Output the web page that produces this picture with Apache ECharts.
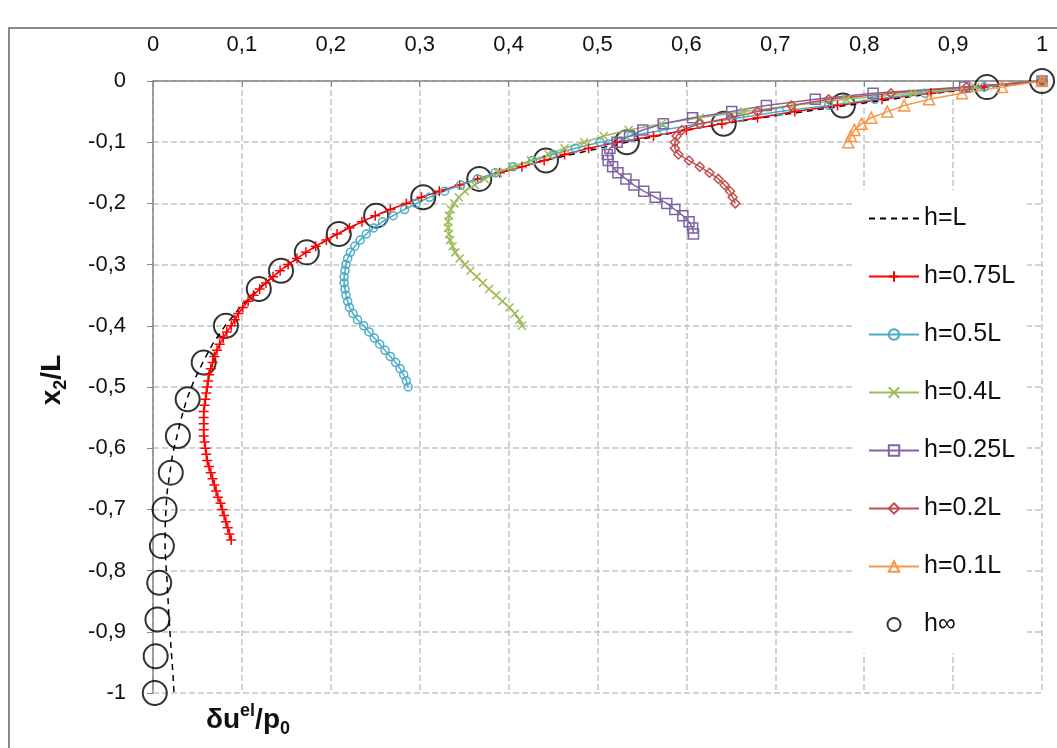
<!DOCTYPE html>
<html>
<head>
<meta charset="utf-8">
<script src="https://cdn.jsdelivr.net/npm/echarts@6/dist/echarts.min.js"></script>
<style>
  html, body { margin: 0; padding: 0; background: #fff; }
  #chart { width: 1057px; height: 748px; }
</style>
</head>
<body>
<div id="chart"></div>
<script>
// x: du_el/p0, y: x2/L
var xTicks = [0, 0.1, 0.2, 0.3, 0.4, 0.5, 0.6, 0.7, 0.8, 0.9, 1];
var yTicks = [-1, -0.9, -0.8, -0.7, -0.6, -0.5, -0.4, -0.3, -0.2, -0.1, 0];

var seriesNames = ['h=L', 'h=0.75L', 'h=0.5L', 'h=0.4L', 'h=0.25L', 'h=0.2L', 'h=0.1L', 'h∞'];

var hL = [[1,0],[0.88,-0.02],[0.78,-0.04],[0.685,-0.06],[0.6,-0.08],[0.533,-0.1],[0.44,-0.13],[0.365,-0.16],
  [0.302,-0.19],[0.25,-0.22],[0.207,-0.25],[0.172,-0.28],[0.143,-0.31],[0.118,-0.34],[0.098,-0.37],[0.081,-0.4],
  [0.067,-0.43],[0.056,-0.46],[0.046,-0.49],[0.038,-0.52],[0.032,-0.55],[0.027,-0.58],[0.022,-0.61],[0.019,-0.64],
  [0.016,-0.67],[0.0145,-0.7],[0.0137,-0.73],[0.0135,-0.76],[0.0145,-0.79],[0.016,-0.82],[0.017,-0.85],
  [0.018,-0.88],[0.0195,-0.91],[0.021,-0.94],[0.0225,-0.97],[0.0236,-1]];

var h075 = [[1,0],[0.935,-0.01],[0.875,-0.02],[0.82,-0.03],[0.77,-0.04],[0.722,-0.05],[0.68,-0.06],[0.64,-0.07],
  [0.6,-0.08],[0.563,-0.09],[0.522,-0.1],[0.49,-0.11],[0.463,-0.12],[0.44,-0.13],[0.415,-0.14],[0.39,-0.15],
  [0.365,-0.16],[0.345,-0.17],[0.322,-0.18],[0.302,-0.19],[0.285,-0.2],[0.267,-0.21],[0.25,-0.22],[0.235,-0.23],
  [0.221,-0.24],[0.207,-0.25],[0.195,-0.26],[0.183,-0.27],[0.172,-0.28],[0.162,-0.29],[0.152,-0.3],[0.143,-0.31],
  [0.135,-0.32],[0.127,-0.33],[0.12,-0.34],[0.113,-0.35],[0.107,-0.36],[0.101,-0.37],[0.096,-0.38],[0.092,-0.39],
  [0.088,-0.4],[0.083,-0.41],[0.079,-0.42],[0.075,-0.43],[0.072,-0.44],[0.069,-0.45],[0.067,-0.46],[0.065,-0.47],
  [0.063,-0.48],[0.062,-0.49],[0.061,-0.5],[0.06,-0.51],[0.059,-0.52],[0.058,-0.53],[0.057,-0.54],[0.057,-0.55],
  [0.057,-0.56],[0.057,-0.57],[0.057,-0.58],[0.058,-0.59],[0.059,-0.6],[0.06,-0.61],[0.061,-0.62],[0.063,-0.63],
  [0.065,-0.64],[0.067,-0.65],[0.069,-0.66],[0.071,-0.67],[0.073,-0.68],[0.076,-0.69],[0.078,-0.7],[0.08,-0.71],
  [0.082,-0.72],[0.084,-0.73],[0.086,-0.74],[0.088,-0.75]];

var h05 = [[1,0],[0.935,-0.01],[0.868,-0.02],[0.812,-0.03],[0.76,-0.04],[0.705,-0.05],[0.66,-0.06],[0.615,-0.07],
  [0.574,-0.08],[0.538,-0.09],[0.503,-0.1],[0.475,-0.11],[0.45,-0.12],[0.427,-0.13],[0.405,-0.14],[0.385,-0.15],
  [0.365,-0.16],[0.346,-0.17],[0.328,-0.18],[0.311,-0.19],[0.296,-0.2],[0.283,-0.21],[0.27,-0.22],[0.258,-0.23],
  [0.248,-0.24],[0.24,-0.25],[0.233,-0.26],[0.227,-0.27],[0.222,-0.28],[0.219,-0.29],[0.217,-0.3],[0.216,-0.31],
  [0.215,-0.32],[0.215,-0.33],[0.216,-0.34],[0.217,-0.35],[0.219,-0.36],[0.221,-0.37],[0.225,-0.38],[0.23,-0.39],
  [0.237,-0.4],[0.243,-0.41],[0.249,-0.42],[0.255,-0.43],[0.261,-0.44],[0.267,-0.45],[0.273,-0.46],[0.278,-0.47],
  [0.282,-0.48],[0.285,-0.49],[0.287,-0.5]];

var h04 = [[1,0],[0.925,-0.01],[0.855,-0.02],[0.78,-0.03],[0.72,-0.04],[0.665,-0.05],[0.615,-0.06],[0.572,-0.07],
  [0.535,-0.08],[0.507,-0.09],[0.485,-0.1],[0.463,-0.11],[0.445,-0.12],[0.425,-0.13],[0.404,-0.14],[0.388,-0.15],
  [0.373,-0.16],[0.362,-0.17],[0.351,-0.18],[0.344,-0.19],[0.339,-0.2],[0.335,-0.21],[0.333,-0.22],[0.332,-0.23],
  [0.332,-0.24],[0.333,-0.25],[0.334,-0.26],[0.337,-0.27],[0.34,-0.28],[0.345,-0.29],[0.351,-0.3],[0.357,-0.31],
  [0.364,-0.32],[0.371,-0.33],[0.378,-0.34],[0.386,-0.35],[0.393,-0.36],[0.401,-0.37],[0.407,-0.38],[0.412,-0.39],
  [0.415,-0.4]];

var h025 = [[1,0],[0.913,-0.01],[0.81,-0.02],[0.745,-0.03],[0.69,-0.04],[0.651,-0.05],[0.607,-0.06],[0.574,-0.07],
  [0.551,-0.08],[0.536,-0.09],[0.522,-0.1],[0.514,-0.11],[0.511,-0.12],[0.512,-0.13],[0.517,-0.14],[0.523,-0.15],
  [0.532,-0.16],[0.541,-0.17],[0.552,-0.18],[0.565,-0.19],[0.578,-0.2],[0.587,-0.21],[0.596,-0.22],[0.603,-0.23],
  [0.607,-0.24],[0.608,-0.25]];

var h02 = [[1,0],[0.915,-0.01],[0.83,-0.02],[0.76,-0.03],[0.718,-0.04],[0.68,-0.05],[0.65,-0.06],[0.615,-0.07],
  [0.595,-0.08],[0.589,-0.09],[0.587,-0.1],[0.587,-0.11],[0.591,-0.12],[0.603,-0.13],[0.615,-0.14],[0.626,-0.15],
  [0.636,-0.16],[0.643,-0.17],[0.649,-0.18],[0.652,-0.19],[0.655,-0.2]];

var h01 = [[1,0],[0.955,-0.01],[0.91,-0.02],[0.873,-0.03],[0.845,-0.04],[0.826,-0.05],[0.808,-0.06],[0.797,-0.07],
  [0.789,-0.08],[0.785,-0.09],[0.782,-0.1]];

var hInf = [[0.002,-1],[0.003,-0.94],[0.005,-0.88],[0.007,-0.82],[0.01,-0.76],[0.013,-0.7],[0.02,-0.64],[0.028,-0.58],
  [0.039,-0.52],[0.057,-0.46],[0.082,-0.4],[0.119,-0.34],[0.144,-0.31],[0.173,-0.28],[0.209,-0.25],[0.251,-0.22],
  [0.304,-0.19],[0.367,-0.16],[0.442,-0.13],[0.533,-0.1],[0.642,-0.07],[0.776,-0.04],[0.938,-0.01],[1,0]];

var myChart = echarts.init(document.getElementById('chart'));

var fontFam = 'Liberation Sans';
function fmt(v) {
    return String(+v.toFixed(1)).replace('.', ',');
}

// serie con linea e marker vuoto
function lineSerie(name, data, color, symbol, size) {
    return {
        name: name,
        type: 'line',
        data: data,
        symbol: symbol,
        symbolSize: size,
        lineStyle: { color: color, width: 1.5 },
        itemStyle: { color: 'rgba(255,255,255,0)', borderColor: color, borderWidth: 1.5 },
        emphasis: { disabled: true }
    };
}

var plus = 'path://M5,0 L5,10 M0,5 L10,5';
var cross = 'path://M0,0 L10,10 M10,0 L0,10';

option = {
    animation: false,
    backgroundColor: '#fff',
    grid: { left: 153, right: 15, top: 81, bottom: 55 },
    xAxis: {
        type: 'value',
        position: 'top',
        min: 0, max: 1, interval: 0.1,
        axisLine: { onZero: false, lineStyle: { color: '#868686', width: 1.5 } },
        axisTick: { inside: true, length: 6, lineStyle: { color: '#868686' } },
        axisLabel: { formatter: fmt, margin: 25, fontSize: 22, fontFamily: fontFam, color: '#111' },
        splitLine: { lineStyle: { color: '#c3c3c3', width: 1.5, type: [6, 3] } }
    },
    yAxis: {
        type: 'value',
        min: -1, max: 0, interval: 0.1,
        axisLine: { onZero: false, lineStyle: { color: '#868686', width: 1.5 } },
        axisTick: { show: true, length: 6, lineStyle: { color: '#868686' } },
        axisLabel: { formatter: fmt, margin: 27, fontSize: 22, fontFamily: fontFam, color: '#111' },
        splitLine: { lineStyle: { color: '#c3c3c3', width: 1.5, type: [6, 3] } }
    },
    legend: {
        orient: 'vertical',
        left: 852, top: 190,
        padding: [16, 12, 16, 16],
        backgroundColor: '#fff',
        itemWidth: 50, itemHeight: 13, itemGap: 33,
        textStyle: { fontSize: 25, fontFamily: fontFam, color: '#111' },
        data: [
            { name: 'h=L', itemStyle: { opacity: 0 } },
            'h=0.75L', 'h=0.5L', 'h=0.4L', 'h=0.25L', 'h=0.2L', 'h=0.1L', 'h∞'
        ]
    },
    graphic: [
        { type: 'rect', shape: { x: 9, y: 28, width: 1200, height: 900 }, style: { fill: 'none', stroke: '#8a8a8a', lineWidth: 2 }, silent: true },
        {
            type: 'text', x: 248, y: 720,
            style: {
                text: '{m|δu}{sup|el}{m|/p}{sub|0}',
                align: 'center', verticalAlign: 'middle',
                rich: {
                    m: { fontSize: 28, fontWeight: 'bold', fontFamily: fontFam, lineHeight: 36, verticalAlign: 'middle', fill: '#111' },
                    sup: { fontSize: 18, fontWeight: 'bold', fontFamily: fontFam, lineHeight: 36, verticalAlign: 'top', fill: '#111' },
                    sub: { fontSize: 18, fontWeight: 'bold', fontFamily: fontFam, lineHeight: 36, verticalAlign: 'bottom', fill: '#111' }
                }
            }
        },
        {
            type: 'text', x: 52, y: 380, rotation: Math.PI / 2,
            style: {
                text: '{m|x}{sub|2}{m|/L}',
                align: 'center', verticalAlign: 'middle',
                rich: {
                    m: { fontSize: 28, fontWeight: 'bold', fontFamily: fontFam, lineHeight: 36, verticalAlign: 'middle', fill: '#111' },
                    sub: { fontSize: 18, fontWeight: 'bold', fontFamily: fontFam, lineHeight: 36, verticalAlign: 'bottom', fill: '#111' }
                }
            }
        }
    ],
    series: [
        {
            name: 'h=L', type: 'line', data: hL, symbol: 'none',
            lineStyle: { color: '#000', width: 1.5, type: [6, 5] },
            itemStyle: { color: '#000' },
            emphasis: { disabled: true }
        },
        lineSerie('h=0.75L', h075, '#ff0000', plus, 10),
        lineSerie('h=0.5L', h05, '#4bacc6', 'circle', 8),
        lineSerie('h=0.4L', h04, '#9bbb59', cross, 8),
        lineSerie('h=0.25L', h025, '#8064a2', 'rect', 10),
        lineSerie('h=0.2L', h02, '#c0504d', 'diamond', 9),
        lineSerie('h=0.1L', h01, '#f79646', 'triangle', 11),
        {
            name: 'h∞', type: 'scatter', data: hInf, symbol: 'circle', symbolSize: 24,
            itemStyle: { color: 'rgba(255,255,255,0)', borderColor: '#000', borderWidth: 2 },
            emphasis: { disabled: true }
        }
    ]
};

myChart.setOption(option);
</script>
</body>
</html>
